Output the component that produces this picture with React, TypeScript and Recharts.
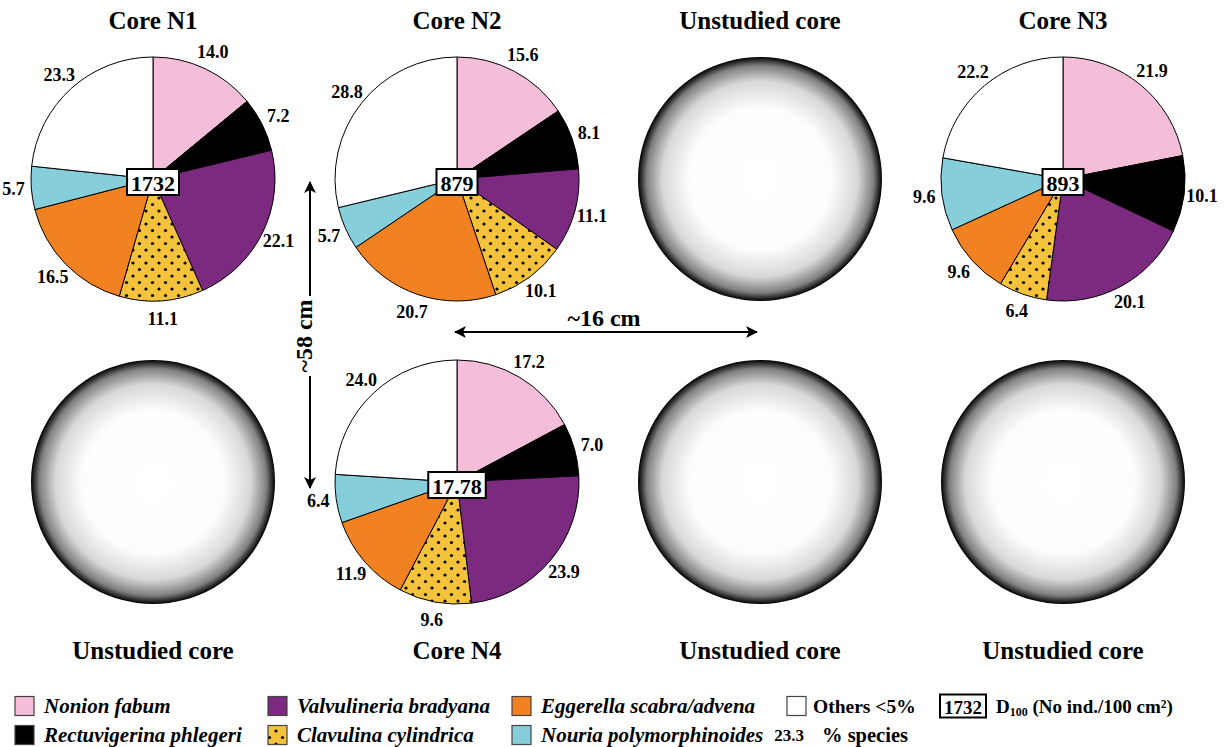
import { Cell, Pie, PieChart } from "recharts";

// species in clockwise order from 12 o'clock
const SPECIES = [
  "Nonion fabum",
  "Rectuvigerina phlegeri",
  "Valvulineria bradyana",
  "Clavulina cylindrica",
  "Eggerella scabra/advena",
  "Nouria polymorphinoides",
  "Others <5%",
];
const COLORS = ["#f4bdd8", "#000000", "#7b2a80", "url(#dots)", "#f28221", "#87cedb", "#ffffff"];

const CORE_N1 = [14.0, 7.2, 22.1, 11.1, 16.5, 5.7, 23.3];
const CORE_N2 = [15.6, 8.1, 11.1, 10.1, 20.7, 5.7, 28.8];
const CORE_N3 = [21.9, 10.1, 20.1, 6.4, 9.6, 9.6, 22.2];
const CORE_N4 = [17.2, 7.0, 23.9, 9.6, 11.9, 6.4, 24.0];

const STUDIED = ["Core N1", "Core N2", "Core N3", "Core N4"];
const D100 = ["1732", "879", "893", "17.78"];
const UNSTUDIED = [{ value: 1 }];

// layout
const COL_X = [153, 457, 760, 1063];
const ROW_Y = [179, 482];
const R = 122;
const SERIF = "'Liberation Serif', 'Times New Roman', serif";
const RAD = Math.PI / 180;

const toRows = (vals: number[]) => vals.map((v, i) => ({ name: SPECIES[i], value: v }));

function pctLabel(p: any) {
  const r = p.outerRadius + 18;
  const x = p.cx + r * Math.cos(-p.midAngle * RAD);
  const y = p.cy + r * Math.sin(-p.midAngle * RAD);
  return (
    <text x={x} y={y} textAnchor="middle" dominantBaseline="central" fontFamily={SERIF} fontWeight="bold" fontSize={18} fill="#000">
      {Number(p.value).toFixed(1)}
    </text>
  );
}

function CorePie({ vals, cx, cy }: { vals: number[]; cx: number; cy: number }) {
  return (
    <Pie
      data={toRows(vals)}
      dataKey="value"
      cx={cx}
      cy={cy}
      outerRadius={R}
      startAngle={90}
      endAngle={-270}
      stroke="#000"
      strokeWidth={1}
      label={pctLabel}
      labelLine={false}
      isAnimationActive={false}
    >
      {vals.map((_, i) => (
        <Cell key={i} fill={COLORS[i]} />
      ))}
    </Pie>
  );
}

function DensityBox({ x, y, text, size = 22 }: { x: number; y: number; text: string; size?: number }) {
  // digits ~0.5em, dot ~0.25em
  const em = text.split("").reduce((s, c) => s + (c === "." ? 0.25 : 0.5), 0);
  const w = em * size + 8;
  const h = size + 4;
  return (
    <g>
      <rect x={x - w / 2} y={y - h / 2} width={w} height={h} fill="#fff" stroke="#000" strokeWidth={2} />
      <text x={x} y={y + 1} textAnchor="middle" dominantBaseline="central" fontFamily={SERIF} fontWeight="bold" fontSize={size}>
        {text}
      </text>
    </g>
  );
}

function Title({ x, y, text }: { x: number; y: number; text: string }) {
  return (
    <text x={x} y={y} textAnchor="middle" dominantBaseline="central" fontFamily={SERIF} fontWeight="bold" fontSize={25}>
      {text}
    </text>
  );
}

function LegendItem({ x, y, i }: { x: number; y: number; i: number }) {
  const italic = i < 6;
  return (
    <g>
      <rect x={x} y={y - 9.5} width={19} height={19} fill={COLORS[i]} stroke="#444" strokeWidth={1.2} />
      <text x={x + (italic ? 29 : 26)} y={y} dominantBaseline="central" fontFamily={SERIF} fontWeight="bold" fontStyle={italic ? "italic" : "normal"} fontSize={italic ? 21 : 19.5}>
        {SPECIES[i]}
      </text>
    </g>
  );
}

export default function App() {
  const cores = [CORE_N1, CORE_N2, CORE_N3, CORE_N4];
  const pos = [
    [COL_X[0], ROW_Y[0]],
    [COL_X[1], ROW_Y[0]],
    [COL_X[3], ROW_Y[0]],
    [COL_X[1], ROW_Y[1]],
  ];
  const empty = [
    [COL_X[2], ROW_Y[0]],
    [COL_X[0], ROW_Y[1]],
    [COL_X[2], ROW_Y[1]],
    [COL_X[3], ROW_Y[1]],
  ];
  const legendCols = [15, 268, 512];

  return (
    <div style={{ position: "absolute", left: 0, top: 0, width: 1225, height: 747, background: "#fff" }}>
      <PieChart width={1225} height={747} margin={{ top: 0, right: 0, bottom: 0, left: 0 }}>
        <defs>
          <pattern id="dots" width={13} height={13} patternUnits="userSpaceOnUse">
            <rect width={13} height={13} fill="#f5c33b" />
            <circle cx={3} cy={3} r={1.6} fill="#000" />
            <circle cx={9.5} cy={9.5} r={1.6} fill="#000" />
          </pattern>
          <radialGradient id="coreShade" cx="50%" cy="50%" r="50%">
            <stop offset="0%" stopColor="#fff" />
            <stop offset="58%" stopColor="#fdfdfd" />
            <stop offset="80%" stopColor="#d8d8d8" />
            <stop offset="93%" stopColor="#808080" />
            <stop offset="100%" stopColor="#000" />
          </radialGradient>
          <marker id="ah" viewBox="0 0 12 12" refX={11} refY={6} markerWidth={13} markerHeight={12} orient="auto-start-reverse" markerUnits="userSpaceOnUse">
            <path d="M0,0 L12,6 L0,12 L3,6 Z" fill="#000" />
          </marker>
        </defs>

        {cores.map((vals, k) => (
          <CorePie key={STUDIED[k]} vals={vals} cx={pos[k][0]} cy={pos[k][1]} />
        ))}

        {empty.map(([x, y], k) => (
          <Pie
            key={`u${k}`}
            data={UNSTUDIED}
            dataKey="value"
            cx={x}
            cy={y}
            outerRadius={R}
            startAngle={90}
            endAngle={-270}
            fill="url(#coreShade)"
            stroke="none"
            isAnimationActive={false}
          />
        ))}

        <Title x={COL_X[0]} y={20} text="Core N1" />
        <Title x={COL_X[1]} y={20} text="Core N2" />
        <Title x={COL_X[2]} y={20} text="Unstudied core" />
        <Title x={COL_X[3]} y={20} text="Core N3" />
        <Title x={COL_X[0]} y={650} text="Unstudied core" />
        <Title x={COL_X[1]} y={650} text="Core N4" />
        <Title x={COL_X[2]} y={650} text="Unstudied core" />
        <Title x={COL_X[3]} y={650} text="Unstudied core" />

        {/* distance arrows */}
        <line x1={310} y1={182} x2={310} y2={488} stroke="#000" strokeWidth={2} markerStart="url(#ah)" markerEnd="url(#ah)" />
        <rect x={294} y={296} width={30} height={80} fill="#fff" />
        <text x={304} y={336} transform="rotate(-90 304 336)" textAnchor="middle" dominantBaseline="central" fontFamily={SERIF} fontWeight="bold" fontSize={24}>
          ~58 cm
        </text>
        <line x1={455} y1={332} x2={757} y2={332} stroke="#000" strokeWidth={2} markerStart="url(#ah)" markerEnd="url(#ah)" />
        <text x={604} y={318} textAnchor="middle" dominantBaseline="central" fontFamily={SERIF} fontWeight="bold" fontSize={24}>
          ~16 cm
        </text>

        {/* legend */}
        {SPECIES.slice(0, 6).map((_, i) => (
          <LegendItem key={`l${i}`} x={legendCols[Math.floor(i / 2)]} y={i % 2 === 0 ? 706 : 735} i={i} />
        ))}
        <LegendItem x={787} y={706} i={6} />
        <DensityBox x={963} y={706} text="1732" size={19} />
        <text x={996} y={706} dominantBaseline="central" fontFamily={SERIF} fontWeight="bold" fontSize={19}>
          D<tspan fontSize={12} dy={6}>100</tspan>
          <tspan dy={-6}> (No ind./100 cm²)</tspan>
        </text>
        <text x={789} y={735} textAnchor="middle" dominantBaseline="central" fontFamily={SERIF} fontWeight="bold" fontSize={17}>
          23.3
        </text>
        <text x={822} y={735} dominantBaseline="central" fontFamily={SERIF} fontWeight="bold" fontSize={20.5}>
          % species
        </text>
      </PieChart>
      {/* D100 boxes sit on top of the pie centres */}
      <svg width={1225} height={747} style={{ position: "absolute", left: 0, top: 0, pointerEvents: "none" }}>
        {pos.map(([x, y], k) => (
          <DensityBox key={`d${k}`} x={x} y={y + 3} text={D100[k]} />
        ))}
      </svg>
    </div>
  );
}
